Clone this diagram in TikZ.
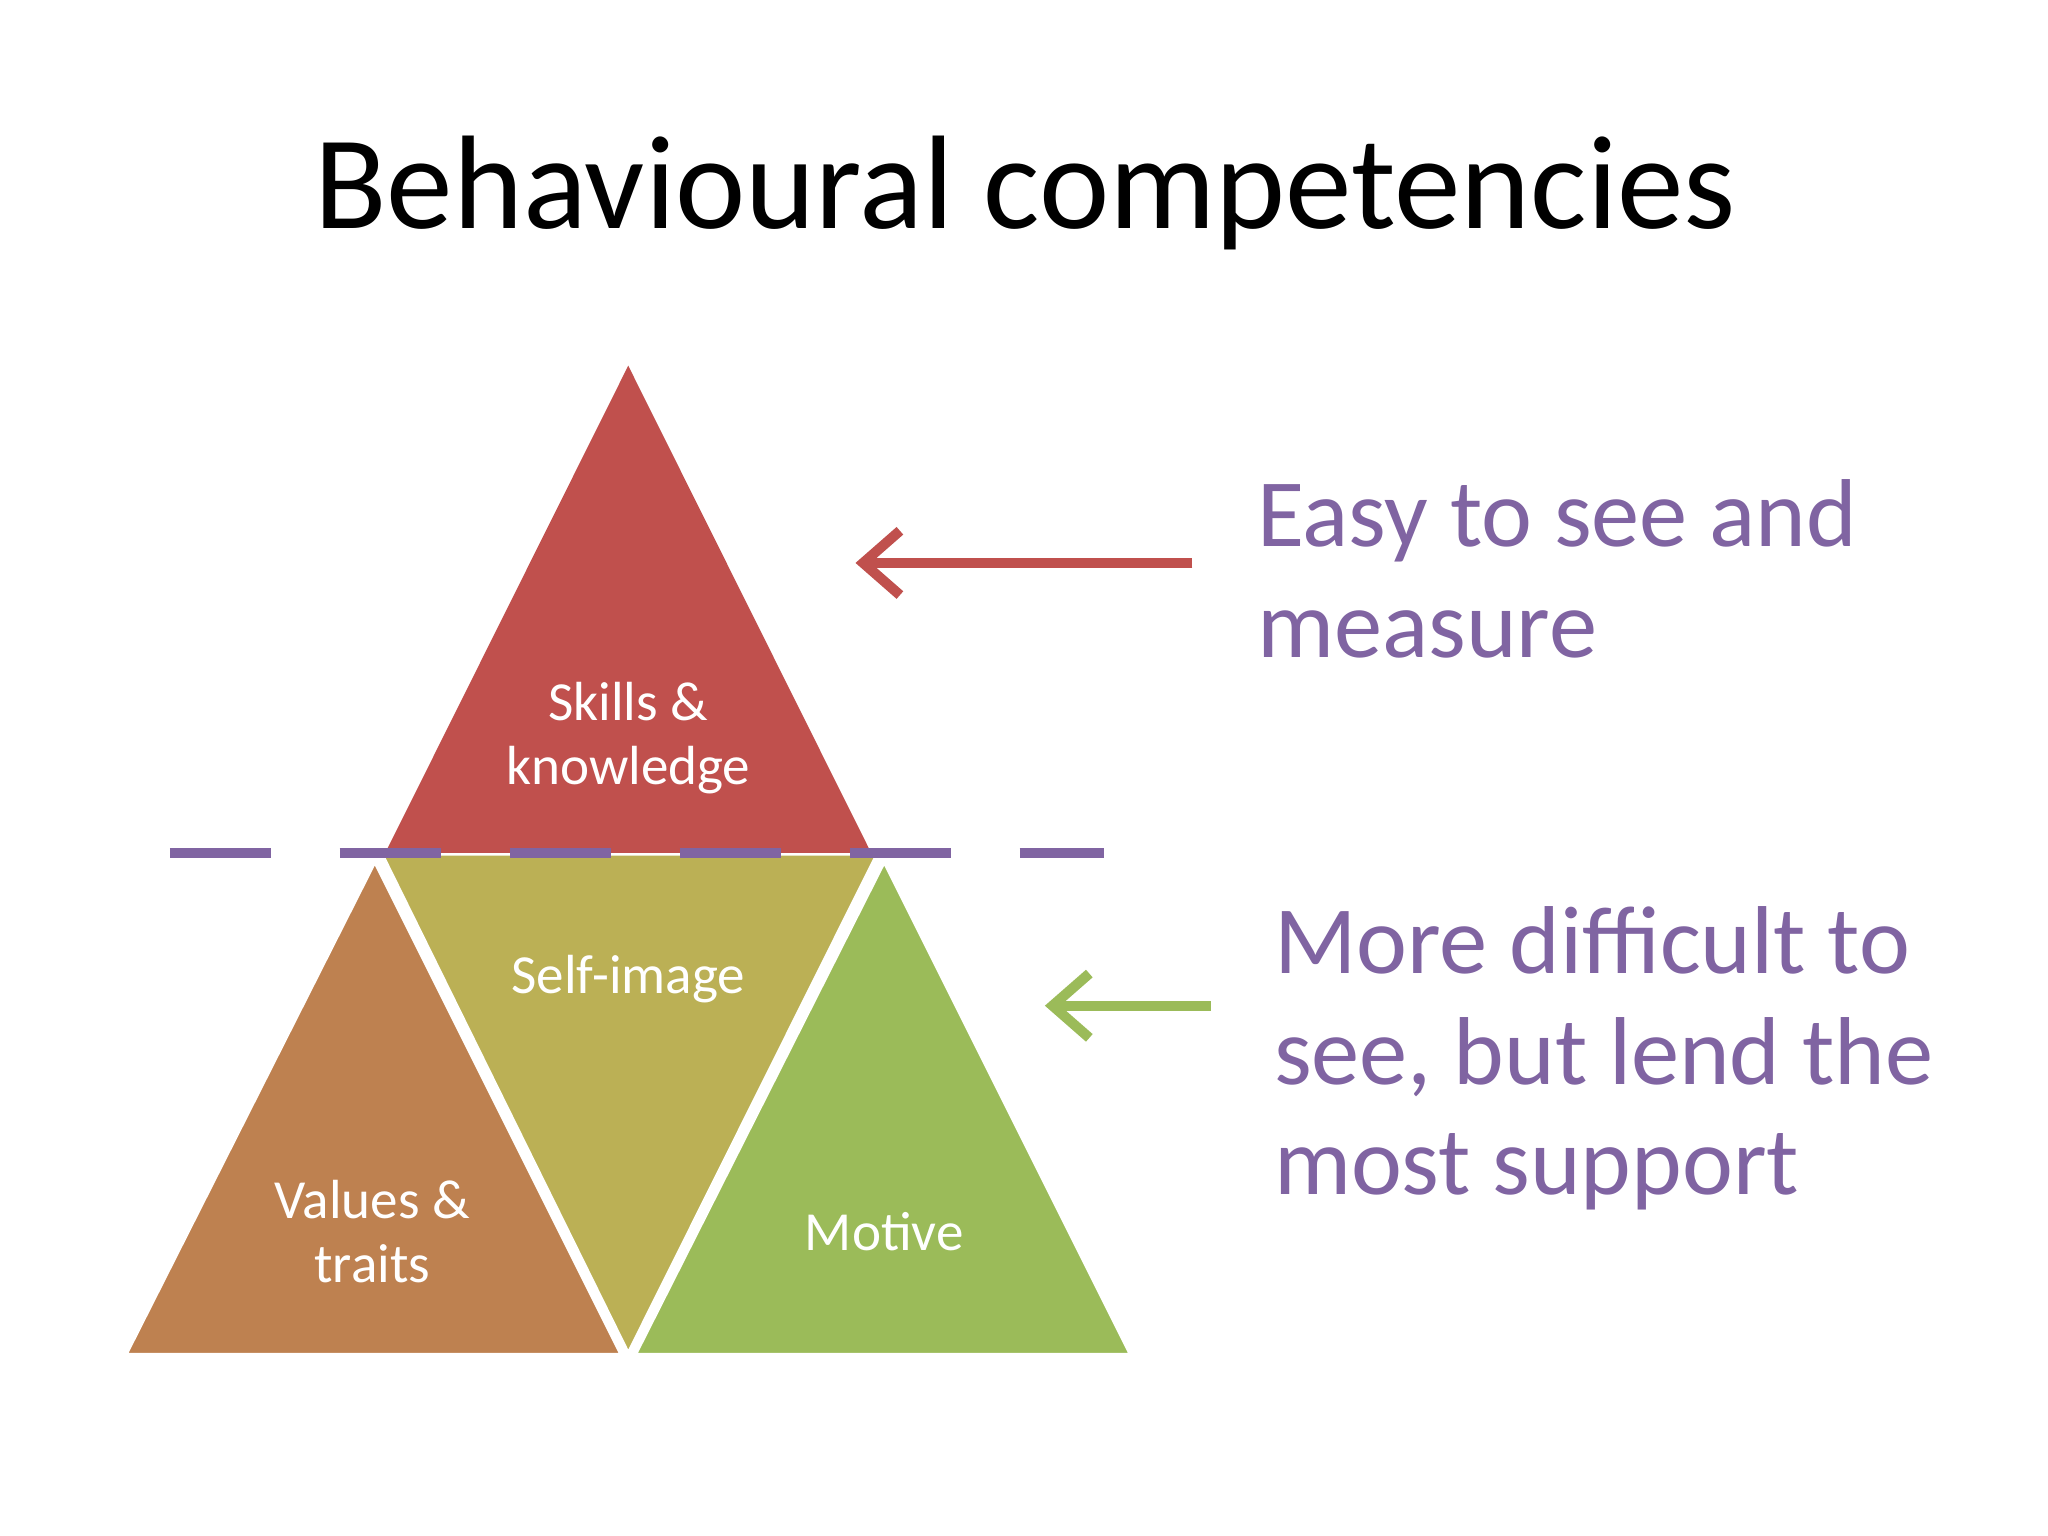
\documentclass[tikz,border=0pt]{standalone}
\usepackage{fontspec}
\setmainfont{Carlito}
\usetikzlibrary{arrows.meta}
\definecolor{red1}{HTML}{C0504D}
\definecolor{brn}{HTML}{BE8150}
\definecolor{olv}{HTML}{BBB055}
\definecolor{grn}{HTML}{9BBB59}
\definecolor{purp}{HTML}{8064A2}
\begin{document}
\begin{tikzpicture}[x=0.01cm,y=-0.01cm,
 tri/.style={draw=white,line width=1.2pt},
 lab/.style={text=white,font=\fontsize{12}{14}\selectfont,align=center},
 side/.style={text=purp,font=\fontsize{21}{24}\selectfont,align=left,anchor=north west},
 arr/.style={line width=2.2pt,-{Straight Barb[length=8pt,width=14pt]}}]
\useasboundingbox (0,0) rectangle (1568,1176);
\fill[white] (0,0) rectangle (1568,1176);
\node (title) at (785,148) {\fontsize{29}{34}\selectfont Behavioural competencies};
\fill[brn,tri] (287,658) -- (477,1038) -- (95,1038) -- cycle;
\fill[grn,tri] (677,658) -- (867,1038) -- (485,1038) -- cycle;
\filldraw[olv,tri] (291,653) -- (673,653) -- (481,1038) -- cycle;
\fill[red1] (481,280) -- (667,653) -- (295,653) -- cycle;
\draw[purp,line width=2.2pt,dash pattern=on 22 off 15] (130,653) -- (845,653);
\node[lab] (sk) at (481,565) {Skills \&\\knowledge};
\node[lab] (si) at (481,750) {Self-image};
\node[lab] (vt) at (285,943) {Values \&\\traits};
\node[lab] (mo) at (677,943) {Motive};
\node[side] (t1) at (950,355) {Easy to see and\\measure};
\node[side] (t2) at (963,682) {More difficult to\\see, but lend the\\most support};
\coordinate (a1s) at (913,431); \coordinate (a1e) at (655,431);
\coordinate (a2s) at (927,770); \coordinate (a2e) at (800,770);
\draw[arr,red1] (a1s) -- (a1e);
\draw[arr,grn] (a2s) -- (a2e);
\end{tikzpicture}
\end{document}
